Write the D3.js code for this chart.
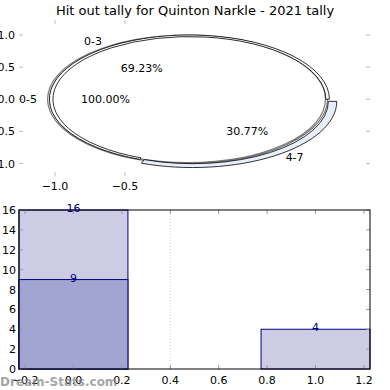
<!DOCTYPE html>
<html>
<head>
<meta charset="utf-8">
<script src="https://cdn.jsdelivr.net/npm/d3@7"></script>
<style>
  body { margin: 0; background: #fff; }
  svg { font-family: "DejaVu Sans", sans-serif; }
</style>
</head>
<body>
<svg id="chart" width="390" height="390"></svg>
<script>
const title = "Hit out tally for Quinton Narkle - 2021 tally";

// outer ring (by count), inner ring (all)
const outerLabels = ["0-3", "4-7"];
const outerValues = [9, 4];
const innerLabels = ["0-5"];
const innerValues = [13];

// bar chart
const barX = [0, 1];
const barTotals = [16, 4];
const barSub = [9, 0];
const xTicks = [-0.2, 0, 0.2, 0.4, 0.6, 0.8, 1.0, 1.2];
const yTicks = [0, 2, 4, 6, 8, 10, 12, 14, 16];
const pieTicks = [-1, -0.5, 0, 0.5, 1];

const svg = d3.select("#chart");
const tickGrey = "#bbb";
const fmt1 = (t) => d3.format(".1f")(t).replace("-", "\u2212");

svg.append("text")
  .attr("x", 195).attr("y", 15)
  .attr("text-anchor", "middle")
  .attr("font-size", 13)
  .text(title);

// ---- pie panel ----
const px = d3.scaleLinear().domain([-1, 1]).range([55, 335]);
const py = d3.scaleLinear().domain([-1, 1]).range([163.5, 35]);
const pieCx = -0.04;
const sx = (px(1) - px(0)) / 100;
const sy = (py(0) - py(1)) / 100;

pieTicks.forEach((t) => {
  svg.append("line").attr("x1", 19).attr("x2", 23).attr("y1", py(t)).attr("y2", py(t))
    .attr("stroke", tickGrey);
  svg.append("line").attr("x1", 366).attr("x2", 370).attr("y1", py(t)).attr("y2", py(t))
    .attr("stroke", tickGrey);
  svg.append("text").attr("x", 15).attr("y", py(t) + 4)
    .attr("text-anchor", "end").attr("font-size", 11)
    .text(fmt1(t));
});
[-1, -0.5].forEach((t) => {
  svg.append("line").attr("x1", px(t)).attr("x2", px(t)).attr("y1", 20).attr("y2", 24)
    .attr("stroke", tickGrey);
  svg.append("line").attr("x1", px(t)).attr("x2", px(t)).attr("y1", 172).attr("y2", 176)
    .attr("stroke", tickGrey);
  svg.append("text").attr("x", px(t)).attr("y", 190)
    .attr("text-anchor", "middle").attr("font-size", 11)
    .text(fmt1(t));
});

// counter-clockwise from 3 o'clock, like the original
const pie = d3.pie().sort(null).startAngle(Math.PI / 2).endAngle(Math.PI / 2 - 2 * Math.PI);
const outerArcs = pie(outerValues);
const innerArcs = pie(innerValues);
const outerColors = ["#ffffff", "#e8eefa"];
const explode = [0, 0.04];

const pieG = svg.append("g");
const place = (dx, dy) =>
  `translate(${px(pieCx + dx)},${py(dy)}) scale(${sx},${sy})`;

// inner ring, mostly hidden under the outer one
innerArcs.forEach((a) => {
  pieG.append("path")
    .attr("d", d3.arc().innerRadius(98.5).outerRadius(100)(a))
    .attr("transform", place(-0.013, 0))
    .attr("fill", "#fff")
    .attr("stroke", "#777")
    .attr("stroke-width", 1.2)
    .attr("vector-effect", "non-scaling-stroke");
});

outerArcs.forEach((a, i) => {
  const mid = (a.startAngle + a.endAngle) / 2;
  const dx = Math.sin(mid) * explode[i];
  const dy = Math.cos(mid) * explode[i];
  const r0 = i === 0 ? 97.5 : 97;
  const r1 = i === 0 ? 100 : 103;
  pieG.append("path")
    .attr("d", d3.arc().innerRadius(r0).outerRadius(r1)(a))
    .attr("transform", place(dx, dy))
    .attr("fill", outerColors[i])
    .attr("stroke", "#000")
    .attr("stroke-width", 0.8)
    .attr("vector-effect", "non-scaling-stroke");
});

const total = d3.sum(outerValues);
outerArcs.forEach((a, i) => {
  const mid = (a.startAngle + a.endAngle) / 2;
  const ex = 1 + explode[i] * 2.5;
  const lx = Math.sin(mid) * 1.1 * ex;
  const ly = Math.cos(mid) * 1.1;
  svg.append("text")
    .attr("x", px(pieCx + lx))
    .attr("y", py(ly) + 4)
    .attr("text-anchor", lx > 0 ? "start" : "end").attr("font-size", 11)
    .text(outerLabels[i]);
  svg.append("text")
    .attr("x", px(pieCx + Math.sin(mid) * 0.6 * ex * ex))
    .attr("y", py(Math.cos(mid) * 0.6) + 4)
    .attr("text-anchor", "middle").attr("font-size", 11)
    .text(d3.format(".2f")(outerValues[i] / total * 100) + "%");
});
svg.append("text").attr("x", 19).attr("y", py(0) + 4)
  .attr("font-size", 11).text(innerLabels[0]);
svg.append("text").attr("x", px(pieCx - 0.6)).attr("y", py(0) + 4)
  .attr("text-anchor", "middle").attr("font-size", 11)
  .text(d3.format(".2f")(innerValues[0] / d3.sum(innerValues) * 100) + "%");

// ---- bar panel ----
const frameL = 19, frameR = 370, frameT = 210, frameB = 369;
const x = d3.scaleLinear().domain([-0.225, 1.225]).range([frameL, frameR]);
const y = d3.scaleLinear().domain([0, 16]).range([frameB, frameT]);
const barW = 0.45;

const bars = svg.append("g");
barX.forEach((b, i) => {
  bars.append("rect")
    .attr("x", x(b - barW / 2)).attr("y", y(barTotals[i]))
    .attr("width", x(b + barW / 2) - x(b - barW / 2))
    .attr("height", y(0) - y(barTotals[i]))
    .attr("fill", "#cccce5").attr("stroke", "#000080").attr("stroke-width", 1);
  if (barSub[i] > 0) {
    bars.append("rect")
      .attr("x", x(b - barW / 2)).attr("y", y(barSub[i]))
      .attr("width", x(b + barW / 2) - x(b - barW / 2))
      .attr("height", y(0) - y(barSub[i]))
      .attr("fill", "#a2a5d1").attr("stroke", "#000080").attr("stroke-width", 1);
  }
});

svg.append("line")
  .attr("x1", x(0.4)).attr("x2", x(0.4)).attr("y1", frameT).attr("y2", frameB)
  .attr("stroke", "#ccc").attr("stroke-dasharray", "1,2");

yTicks.forEach((t) => {
  svg.append("line").attr("x1", frameL).attr("x2", frameL + 4).attr("y1", y(t)).attr("y2", y(t))
    .attr("stroke", "#999");
  svg.append("line").attr("x1", frameR - 4).attr("x2", frameR).attr("y1", y(t)).attr("y2", y(t))
    .attr("stroke", "#999");
  svg.append("text").attr("x", 16).attr("y", y(t) + 4)
    .attr("text-anchor", "end").attr("font-size", 11).text(t);
});
xTicks.forEach((t) => {
  svg.append("line").attr("x1", x(t)).attr("x2", x(t)).attr("y1", frameB).attr("y2", frameB - 4)
    .attr("stroke", "#999");
  svg.append("line").attr("x1", x(t)).attr("x2", x(t)).attr("y1", frameT).attr("y2", frameT + 4)
    .attr("stroke", "#999");
  svg.append("text").attr("x", x(t)).attr("y", 384)
    .attr("text-anchor", "middle").attr("font-size", 11)
    .text(fmt1(t));
});

svg.append("rect")
  .attr("x", frameL).attr("y", frameT)
  .attr("width", frameR - frameL).attr("height", frameB - frameT)
  .attr("fill", "none").attr("stroke", "#000").attr("stroke-width", 1);

const valLabels = [[0, 16], [0, 9], [1, 4]];
valLabels.forEach(([b, v]) => {
  svg.append("text").attr("x", x(b)).attr("y", y(v) + 2)
    .attr("text-anchor", "middle").attr("font-size", 11)
    .attr("fill", "#000080").text(v);
});

svg.append("text").attr("x", 0).attr("y", 386)
  .attr("font-size", 12).attr("font-weight", "bold")
  .attr("fill", "#888").attr("opacity", 0.75)
  .text("Dream-Stats.com");
</script>
</body>
</html>
